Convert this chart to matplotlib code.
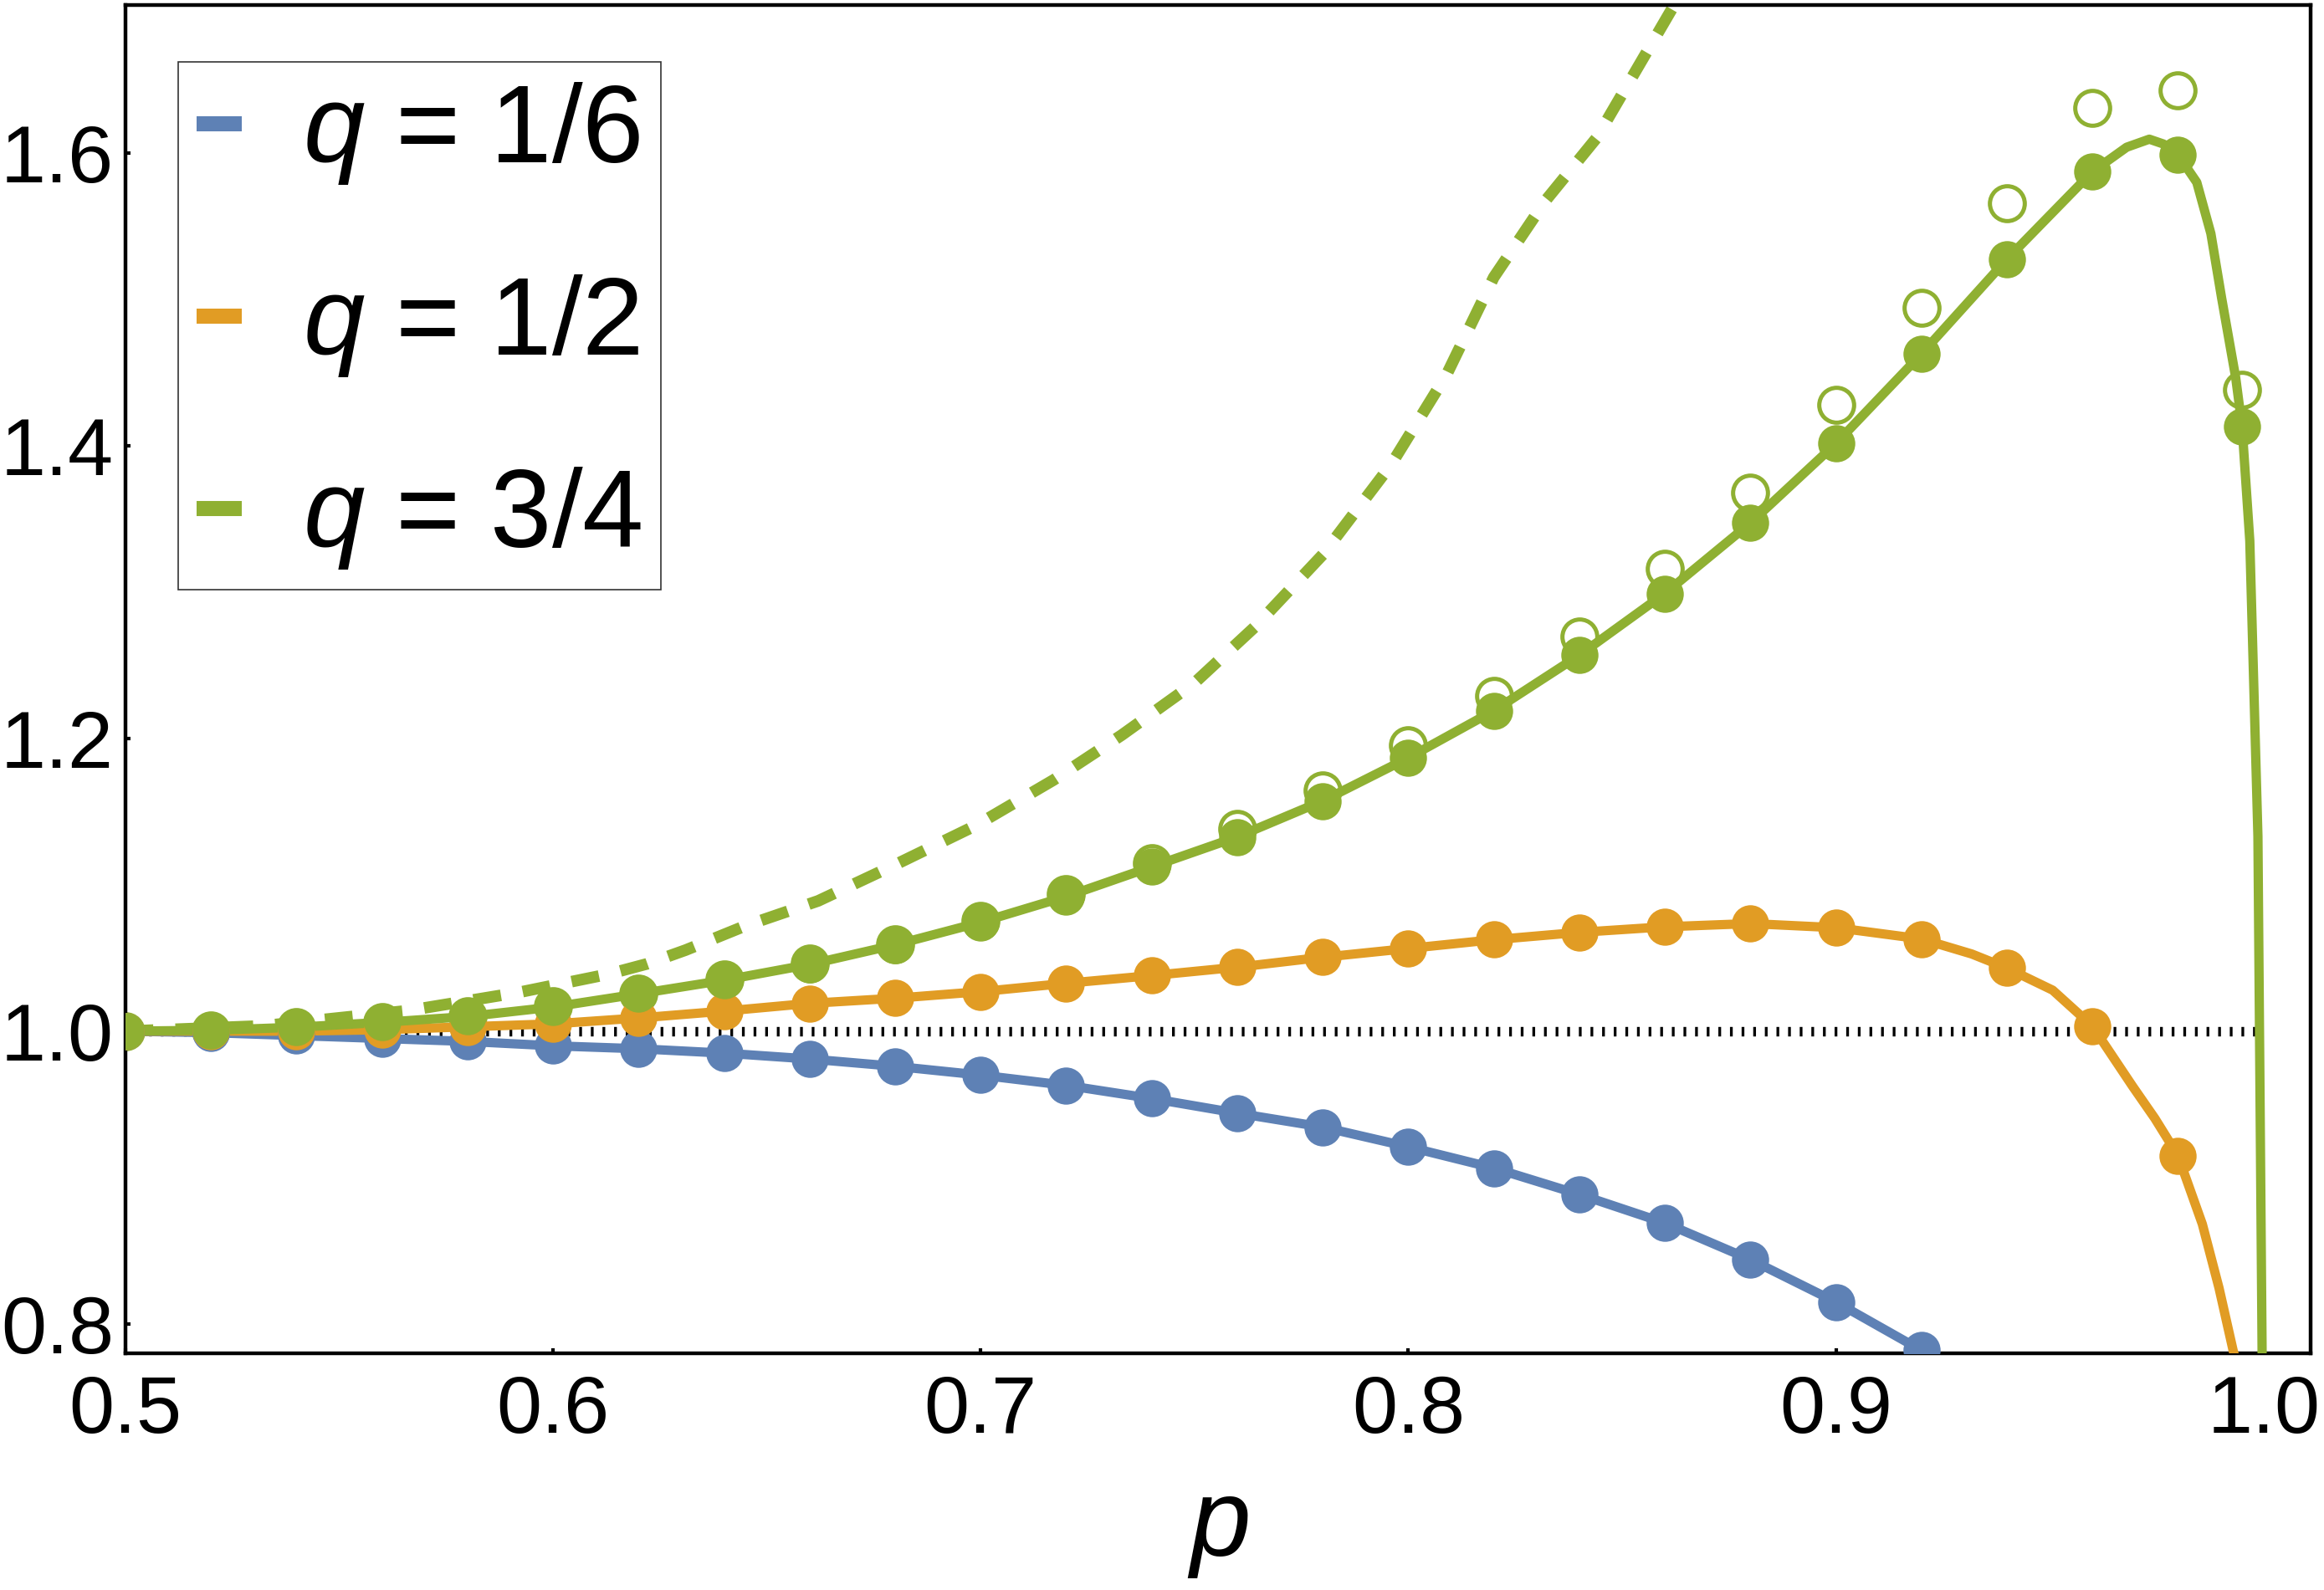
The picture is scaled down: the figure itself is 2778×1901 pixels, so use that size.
import matplotlib.pyplot as plt
from matplotlib.lines import Line2D

plt.rcParams['font.family'] = ['Liberation Sans', 'DejaVu Sans']
plt.rcParams['mathtext.fontset'] = 'custom'
plt.rcParams['mathtext.it'] = 'Liberation Sans:italic'
plt.rcParams['mathtext.rm'] = 'Liberation Sans'

# colours (Mathematica default palette)
c_blue = '#5E81B5'
c_orange = '#E19C24'
c_green = '#8FB032'

# sample points
p_pts = [0.50, 0.52, 0.54, 0.56, 0.58, 0.60, 0.62, 0.64, 0.66, 0.68, 0.70, 0.72,
         0.74, 0.76, 0.78, 0.80, 0.82, 0.84, 0.86, 0.88, 0.90, 0.92, 0.94, 0.96,
         0.98, 0.995]

blue_pts = [1.000, 0.999, 0.997, 0.995, 0.993, 0.990, 0.988, 0.985, 0.981, 0.976,
            0.970, 0.963, 0.954, 0.944, 0.9345, 0.921, 0.9065, 0.8885, 0.869,
            0.844, 0.815, 0.782]

orange_pts = [1.000, 1.000, 1.000, 1.001, 1.003, 1.005, 1.009, 1.0137, 1.019,
              1.0225, 1.027, 1.0327, 1.038, 1.0437, 1.0505, 1.0565, 1.0625,
              1.0675, 1.0713, 1.0735, 1.0707, 1.063, 1.0431, 1.0034, 0.915]

green_pts = [1.000, 1.0006, 1.0027, 1.006, 1.010, 1.0165, 1.0255, 1.0348, 1.0456,
             1.059, 1.0744, 1.092, 1.1123, 1.1327, 1.1573, 1.1867, 1.2189, 1.2568,
             1.299, 1.3471, 1.4014, 1.4626, 1.5273, 1.5871, 1.5987, 1.413]

green_open = [1.000, 1.0006, 1.0027, 1.006, 1.010, 1.0168, 1.0258, 1.0352, 1.046,
              1.0595, 1.0752, 1.0935, 1.115, 1.1383, 1.1644, 1.1952, 1.2293, 1.2696,
              1.316, 1.3678, 1.4276, 1.494, 1.5658, 1.6308, 1.6426, 1.438]

# extra points on the solid curves beyond / between the samples
blue_tail_p = [0.925]
blue_tail = [0.772]
orange_tail_p = [0.9318, 0.9507, 0.9694, 0.9746, 0.9857, 0.9896, 0.9929, 0.995]
orange_tail = [1.0527, 1.028, 0.9623, 0.9404, 0.8682, 0.8246, 0.7819, 0.76]
green_tail_p = [0.968, 0.9733, 0.9766, 0.9844, 0.9877, 0.9902, 0.9935, 0.9968,
                0.9987, 0.9999]
green_tail = [1.6038, 1.6093, 1.606, 1.5798, 1.5448, 1.501, 1.4464, 1.3349,
              1.133, 0.70]

# dashed green curve
dash_p = [0.50, 0.532, 0.566, 0.592, 0.613, 0.622, 0.631, 0.645, 0.662, 0.680,
          0.699, 0.717, 0.733, 0.750, 0.764, 0.780, 0.796, 0.809, 0.820, 0.832,
          0.844, 0.862]
dash_y = [1.000, 1.0036, 1.014, 1.0265, 1.039, 1.046, 1.0554, 1.072, 1.089, 1.1137,
          1.1407, 1.1715, 1.2023, 1.2379, 1.2758, 1.3255, 1.3871, 1.4487, 1.515,
          1.567, 1.61, 1.70]

labels = [r'$q$ = 1/6', r'$q$ = 1/2', r'$q$ = 3/4']


def merged(px, py, tp, ty):
    pairs = sorted(zip(list(px) + tp, list(py) + ty))
    return [a for a, b in pairs], [b for a, b in pairs]


fig = plt.figure(figsize=(13.89, 9.505), dpi=200)
ax = fig.add_axes([0.054, 0.1489, 0.9402, 0.8480])

# reference line at 1
ax.plot([0.5, 1.0], [1.0, 1.0], color='black', lw=4.1,
        linestyle=(0, (0.29, 0.93)), dash_capstyle='butt', zorder=1)

# open circles
ax.plot(p_pts, green_open, linestyle='none', marker='o', ms=15, mfc='none',
        mec=c_green, mew=1.8, zorder=2)

# dashed curve
ax.plot(dash_p, dash_y, color=c_green, lw=5, linestyle=(0, (2.4, 1.9)),
        dash_capstyle='butt', zorder=2)

# solid curves
for px, py, tp, ty, c in [(p_pts[:len(blue_pts)], blue_pts, blue_tail_p, blue_tail, c_blue),
                          (p_pts[:len(orange_pts)], orange_pts, orange_tail_p, orange_tail, c_orange),
                          (p_pts, green_pts, green_tail_p, green_tail, c_green)]:
    xx, yy = merged(px, py, tp, ty)
    ax.plot(xx, yy, color=c, lw=4, solid_joinstyle='round', zorder=3)

# filled markers
ax.plot(p_pts[:len(blue_pts)], blue_pts, linestyle='none', marker='o', ms=16,
        color=c_blue, mew=0, zorder=4)
ax.plot(p_pts[:len(orange_pts)], orange_pts, linestyle='none', marker='o', ms=16,
        color=c_orange, mew=0, zorder=4)
ax.plot(p_pts, green_pts, linestyle='none', marker='o', ms=16,
        color=c_green, mew=0, zorder=4)

ax.set_xlim(0.5, 1.011)
ax.set_ylim(0.78, 1.701)
ax.set_xticks([0.5, 0.6, 0.7, 0.8, 0.9, 1.0])
ax.set_xticklabels(['0.5', '0.6', '0.7', '0.8', '0.9', '1.0'])
ax.set_yticks([0.8, 1.0, 1.2, 1.4, 1.6])
ax.set_yticklabels(['0.8', '1.0', '1.2', '1.4', '1.6'])
ax.tick_params(axis='x', direction='in', length=2, width=1.5, labelsize=35, pad=9)
ax.tick_params(axis='y', direction='in', length=2, width=1.5, labelsize=35, pad=5)
for s in ax.spines.values():
    s.set_linewidth(1.6)

ax.set_xlabel(r'$p$', fontsize=47, labelpad=12)

handles = [Line2D([], [], color=c, lw=6.5, solid_capstyle='butt')
           for c in (c_blue, c_orange, c_green)]
leg = ax.legend(handles, labels, loc='upper left', bbox_to_anchor=(0.024, 0.958),
                borderaxespad=0, fontsize=47.5, handlelength=0.41,
                handletextpad=0.55, labelspacing=0.78, borderpad=0.17,
                fancybox=False, framealpha=1, edgecolor='#333333')
leg.get_frame().set_linewidth(0.6)

fig.savefig('out.png', dpi=200)
